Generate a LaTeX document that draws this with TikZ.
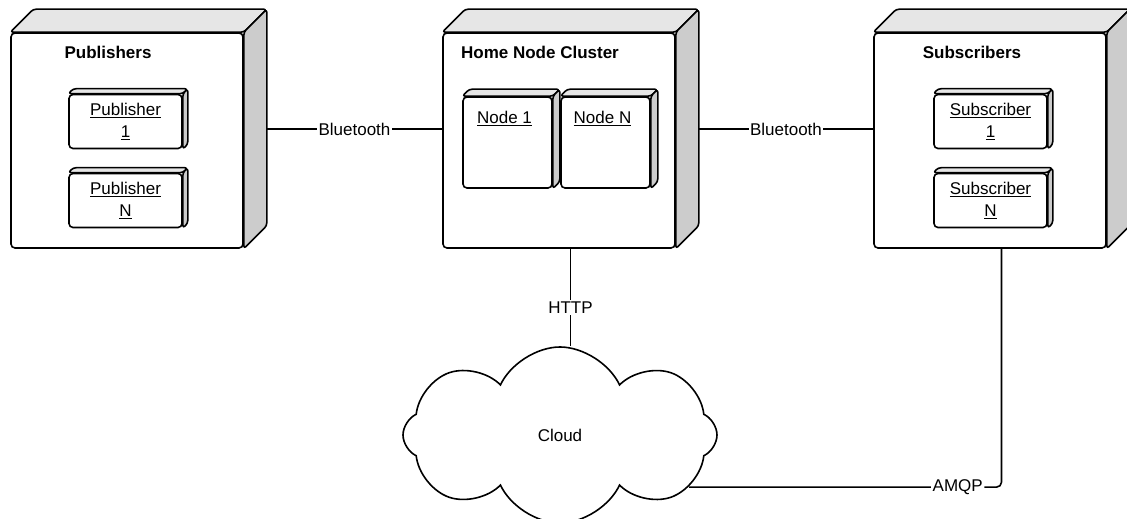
\documentclass[tikz,border=0pt]{standalone}
\usepackage{fontspec}
\setmainfont{Liberation Sans}
\usepackage{xcolor}
\usetikzlibrary{shapes,shapes.symbols,positioning,calc}

\definecolor{topgray}{HTML}{E6E6E6}
\definecolor{sidegray}{HTML}{CCCCCC}

\tikzset{
  front/.style={draw, fill=white, line width=1.6pt, rounded corners=4pt, inner sep=0pt},
  face/.style={draw, line width=1.6pt, rounded corners=3pt, line join=round},
  shell/.style={front, minimum width=232, minimum height=215},
  unit/.style={front, minimum width=113, minimum height=54, align=center, font=\fontsize{17}{22}\selectfont},
  member/.style={front, minimum width=89, minimum height=91},
  title/.style={font=\bfseries\fontsize{17}{20}\selectfont},
  lbl/.style={font=\fontsize{17}{20}\selectfont},
  link/.style={line width=1.6pt},
  tag/.style={fill=white, inner sep=1.5pt, font=\fontsize{17}{20}\selectfont},
}

% top and side faces of a box
\newcommand{\boxfaces}[2]{%
  \draw[face, fill=topgray] (#1.north west) -- ++(#2,#2) -- ([shift={(#2,#2)}]#1.north east) -- (#1.north east) -- cycle;
  \draw[face, fill=sidegray] (#1.north east) -- ++(#2,#2) -- ([shift={(#2,#2)}]#1.south east) -- (#1.south east) -- cycle;
}

\begin{document}
\begin{tikzpicture}[x=1pt,y=1pt]
    \useasboundingbox (0,0) rectangle (1127,519);

    % Publishers
    \node[shell] (pub) at (127,378.5) {};
    \boxfaces{pub}{23}
    \node[title] (pubtitle) at ([xshift=-19,yshift=-20]pub.north) {Publishers};
    \node[unit] (pubone) at (125.5,397.5) {\underline{Publisher}\\\underline{1}};
    \boxfaces{pubone}{5}
    \node[unit] (pubn) at (125.5,318.5) {\underline{Publisher}\\\underline{N}};
    \boxfaces{pubn}{5}

    % Home node cluster
    \node[shell] (hnc) at (559,378.5) {};
    \boxfaces{hnc}{23}
    \node[title] (hnctitle) at ([xshift=-19,yshift=-20]hnc.north) {Home Node Cluster};
    \foreach \n/\x/\t in {nodeone/507.5/Node 1, noden/605.5/Node N} {
        \node[member] (\n) at (\x,376.5) {};
        \boxfaces{\n}{7}
        \node[lbl] (\n lbl) at ([xshift=-3,yshift=-22]\n.north) {\underline{\t}};
    }

    % Subscribers
    \node[shell] (sub) at (990,378.5) {};
    \boxfaces{sub}{23}
    \node[title] (subtitle) at ([xshift=-18,yshift=-20]sub.north) {Subscribers};
    \node[unit] (subone) at (990.5,397.5) {\underline{Subscriber}\\\underline{1}};
    \boxfaces{subone}{5}
    \node[unit] (subn) at (990.5,318.5) {\underline{Subscriber}\\\underline{N}};
    \boxfaces{subn}{5}

    % Cloud
    \node[draw, cloud, cloud puffs=8, cloud puff arc=130, cloud ignores aspect,
          minimum width=314, minimum height=176, line width=1.6pt, fill=white,
          font=\fontsize{17}{20}\selectfont] (cloud) at (560,84) {Cloud};

    % Links
    \draw[link] ([shift={(23,11.5)}]pub.east) -- ([yshift=11.5]hnc.west) node[midway,tag] {Bluetooth};
    \draw[link] ([shift={(23,11.5)}]hnc.east) -- ([yshift=11.5]sub.west) node[midway,tag] {Bluetooth};
    \draw[link] ([xshift=11.5]hnc.south) -- ([xshift=11.5]hnc.south |- cloud.north) node[pos=0.6,tag] {HTTP};
    \draw[link, rounded corners=5] ([xshift=11.5]sub.south) |- (cloud.-22) node[pos=0.57,tag] {AMQP};
\end{tikzpicture}
\end{document}
